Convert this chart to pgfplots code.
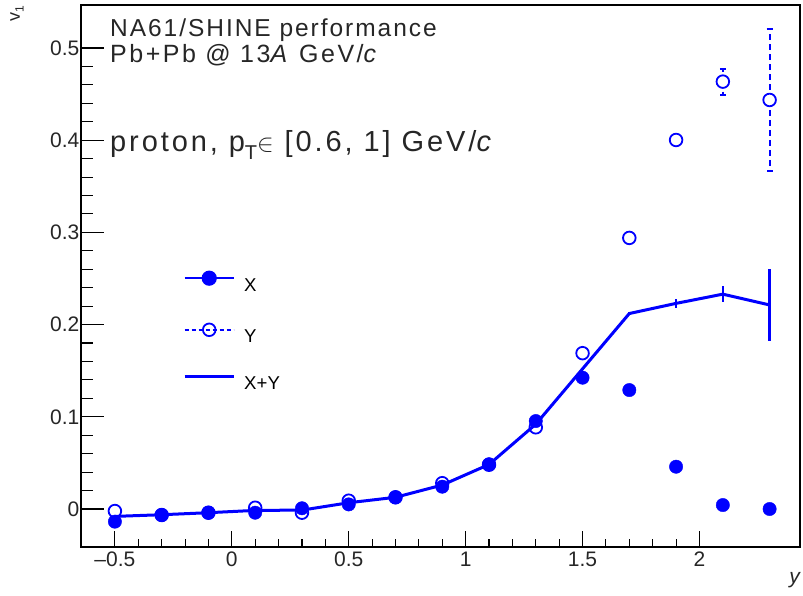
\documentclass[border=0pt]{standalone}
\usepackage{fontspec}
\setmainfont{Liberation Sans}
\newfontfamily\widefont[LetterSpace=8]{Liberation Sans}
\newfontfamily\widerfont[LetterSpace=10]{Liberation Sans}
\usepackage{pgfplots}
\pgfplotsset{compat=1.18}
\usepackage{pgfplotstable}
\definecolor{rootblue}{RGB}{0,0,255}

\pgfplotstableread{
x y
-0.5 -0.0137
-0.3 -0.0065
-0.1 -0.0040
0.1 -0.0040
0.3 0.0008
0.5 0.0050
0.7 0.0127
0.9 0.0242
1.1 0.0485
1.3 0.0954
1.5 0.1424
1.7 0.1290
1.9 0.0459
2.1 0.0043
2.3 0.0000
}\dataX

\pgfplotstableread{
x y e
-0.5 -0.0022 0
-0.3 -0.0065 0
-0.1 -0.0040 0
0.1 0.0014 0
0.3 -0.0040 0
0.5 0.0090 0
0.7 0.0127 0
0.9 0.0280 0
1.1 0.0480 0
1.3 0.0886 0
1.5 0.1690 0
1.7 0.2940 0
1.9 0.4002 0
2.1 0.4635 0.014
2.3 0.4436 0.077
}\dataY

\pgfplotstableread{
x y e
-0.5 -0.0080 0
-0.3 -0.0062 0
-0.1 -0.0040 0
0.1 -0.0015 0
0.3 -0.0012 0
0.5 0.0068 0
0.7 0.0127 0
0.9 0.0260 0
1.1 0.0483 0
1.3 0.0920 0
1.5 0.1520 0
1.7 0.2120 0.002
1.9 0.2230 0.005
2.1 0.2330 0.0088
2.3 0.2213 0.0387
}\dataXY

\begin{document}
\begin{tikzpicture}
\path[use as bounding box] (0,0) rectangle (803pt,595pt);
\begin{axis}[
  at={(81pt,48pt)}, anchor=south west,
  scale only axis, width=719pt, height=542pt,
  xmin=-0.645, xmax=2.43, ymin=-0.0412, ymax=0.5466,
  axis line style={line width=1.1pt, black},
  tick align=inside, xtick pos=bottom, ytick pos=left,
  xtick={-0.5,0,0.5,1,1.5,2},
  xticklabels={\textendash0.5,0,0.5,1,1.5,2},
  ytick={0,0.1,0.2,0.3,0.4,0.5},
  yticklabels={0,0.1,0.2,0.3,0.4,0.5},
  minor x tick num=4, minor y tick num=4,
  major tick length=23pt, minor tick length=11.5pt,
  xtick style={/pgfplots/major tick length=16pt, /pgfplots/minor tick length=8pt},
  tick style={line width=1.1pt, black},
  ticklabel style={font=\fontsize{21}{24}\selectfont, text=black!85},
  yticklabel style={inner xsep=1.5pt},
  xticklabel style={inner ysep=4.5pt},
  clip=false,
  legend image code/.code={\draw[mark repeat=2,mark phase=2,#1] plot coordinates {(0pt,8pt) (24.5pt,8pt) (49pt,8pt)};},
  legend style={at={(0.1419,0.5087)}, anchor=north west, draw=none, fill=none,
    inner sep=0pt, row sep=28.3pt, font=\fontsize{18.6}{20}\selectfont,
    nodes={inner sep=0pt, text height=14pt, text depth=4pt},
    /tikz/every odd column/.style={column sep=9pt}},
  legend cell align=left,
]
\addlegendimage{rootblue, line width=1.8pt, mark=*, mark size=6.7pt, mark options={solid, fill=rootblue}}
\addlegendentry{X}
\addlegendimage{rootblue, line width=1.8pt, dash pattern=on 4pt off 3pt, mark=o, mark size=6.3pt, mark options={solid, line width=1.8pt}}
\addlegendentry{Y}
\addlegendimage{rootblue, line width=3pt}
\addlegendentry{X+Y}

\addplot[rootblue, line width=3pt, mark=none, forget plot,
  error bars/.cd, y dir=both, y explicit, error mark=none,
  error bar style={line width=2.6pt, rootblue}]
  table[x=x, y=y, y error=e] {\dataXY};

\addplot[rootblue, only marks, mark=*, mark size=6.7pt, forget plot,
  mark options={fill=rootblue, draw=rootblue}]
  table[x=x, y=y] {\dataX};

\addplot[rootblue, only marks, mark=o, mark size=6.3pt, forget plot,
  mark options={line width=1.8pt, draw=rootblue},
  skip coords between index={13}{15}]
  table[x=x, y=y] {\dataY};

\addplot[rootblue, only marks, mark=*, mark size=6.3pt, forget plot,
  mark options={line width=1.8pt, draw=rootblue, fill=white},
  skip coords between index={0}{13},
  error bars/.cd, y dir=both, y explicit,
  error bar style={line width=2pt, rootblue, dash pattern=on 6pt off 4pt},
  error mark options={rotate=90, mark size=3pt, line width=2pt, solid, rootblue}]
  table[x=x, y=y, y error=e] {\dataY};
\end{axis}

\node[anchor=base west, font=\widefont\fontsize{24.5}{28}\selectfont, text=black!85, inner sep=0pt]
  at (110pt,558pt) {NA61/SHINE performance};
\node[anchor=base west, font=\widerfont\fontsize{25}{28}\selectfont, text=black!85, inner sep=0pt]
  at (110pt,532pt) {Pb+Pb @ 13\textit{A} GeV/\textit{c}};
\node[anchor=base west, font=\widerfont\fontsize{29}{32}\selectfont, text=black!85, inner sep=0pt]
  at (110pt,443pt) {proton, p\raisebox{-0.5ex}{\fontsize{20}{22}\selectfont T}$\in$ [0.6, 1] GeV/\textit{c}};
\node[anchor=east, rotate=90, font=\fontsize{18}{20}\selectfont, text=black!85, inner sep=0pt]
  at (17pt,589pt) {v\raisebox{-0.4ex}{\fontsize{12}{14}\selectfont 1}};
\node[anchor=north east, font=\itshape\fontsize{21}{24}\selectfont, text=black!85, inner sep=0pt]
  at (800pt,23pt) {y};
\end{tikzpicture}
\end{document}
